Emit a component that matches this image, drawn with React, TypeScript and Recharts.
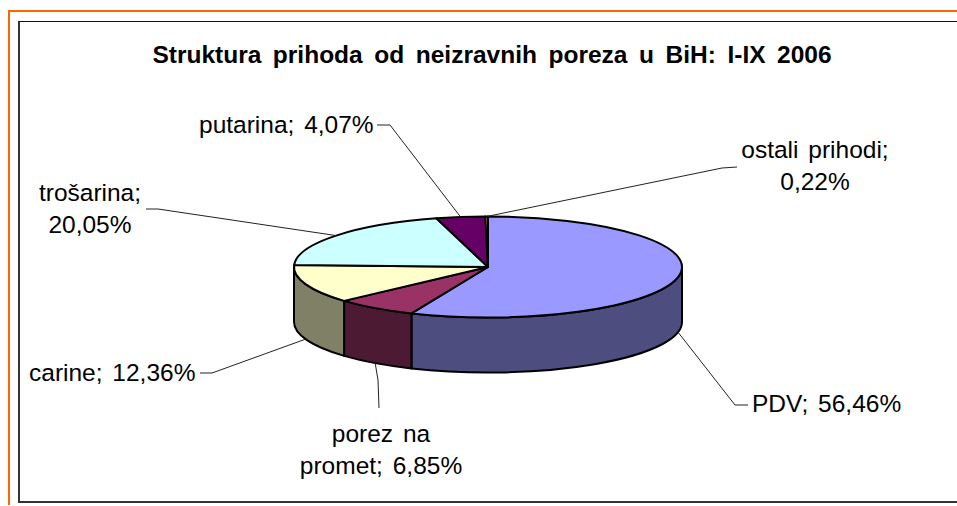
import React from "react";
import { PieChart, Pie, Cell } from "recharts";

const categories = ["PDV", "porez na promet", "carine", "trošarina", "putarina", "ostali prihodi"];
const shares = [56.46, 6.85, 12.36, 20.05, 4.07, 0.22];
const topColors = ["#9999FF", "#993366", "#FFFFCC", "#CCFFFF", "#660066", "#FF8080"];
const wallColors = ["#4D4D80", "#4D1A33", "#808066", "#668080", "#330033", "#804040"];

const tableData = categories.map((name, i) => ({ name, value: shares[i] }));

const CX = 488;
const CY = 267;
const RX = 194;
const RY = 50.5;
const DEPTH = 55;
const FONT = "'Liberation Sans', Arial, sans-serif";
const pct = (v: number) => v.toFixed(2).replace(".", ",") + "%";

type LabelSpec = {
  lines: (full: string, v: string) => string[];
  x: number;
  y: number;
  anchor: "start" | "middle" | "end";
  path: [number, number][];
};

const labelLayout: Record<string, LabelSpec> = {
  PDV: { lines: (f) => [f], x: 752, y: 403, anchor: "start", path: [[748, 405], [735, 405]] },
  "porez na promet": { lines: (_f, v) => ["porez na", `promet; ${v}`], x: 381, y: 433, anchor: "middle", path: [[379, 408], [378, 380]] },
  carine: { lines: (f) => [f], x: 29, y: 372, anchor: "start", path: [[200, 373], [212, 373]] },
  "trošarina": { lines: (_f, v) => ["trošarina;", v], x: 90, y: 192, anchor: "middle", path: [[146, 209], [158, 209]] },
  putarina: { lines: (f) => [f], x: 199, y: 124, anchor: "start", path: [[377, 125], [390, 125]] },
  "ostali prihodi": { lines: (_f, v) => ["ostali prihodi;", v], x: 815, y: 149, anchor: "middle", path: [[737, 167], [722, 168]] },
};

const pt = (deg: number, dy = 0) => {
  const a = (deg * Math.PI) / 180;
  return [CX + RX * Math.cos(a), CY - RY * Math.sin(a) + dy];
};

// Top face: the library's sector angles drawn on an ellipse
const TopFace = (p: any) => {
  const [x0, y0] = pt(p.startAngle);
  const [x1, y1] = pt(p.endAngle);
  const large = Math.abs(p.startAngle - p.endAngle) > 180 ? 1 : 0;
  return (
    <path
      d={`M${CX},${CY}L${x0},${y0}A${RX},${RY} 0 ${large} 1 ${x1},${y1}Z`}
      fill={p.fill}
      stroke="#000"
      strokeWidth={2}
      strokeLinejoin="round"
    />
  );
};

// Side wall: only the part of the sector on the front half of the rim
const SideWall = (p: any) => {
  const s = Math.min(p.startAngle, 0);
  const e = Math.max(p.endAngle, -180);
  if (s <= e) return <g />;
  const [x0, y0] = pt(s);
  const [x1, y1] = pt(e);
  return (
    <path
      d={`M${x0},${y0}A${RX},${RY} 0 0 1 ${x1},${y1}L${x1},${y1 + DEPTH}A${RX},${RY} 0 0 0 ${x0},${y0 + DEPTH}Z`}
      fill={p.fill}
      stroke="#000"
      strokeWidth={2}
      strokeLinejoin="round"
    />
  );
};

const renderLabel = (p: any) => {
  const spec = labelLayout[p.name];
  if (!spec) return <g />;
  const mid = (p.startAngle + p.endAngle) / 2;
  const front = mid < 0 && mid > -180;
  const anchor = pt(mid, front ? DEPTH : 0);
  const pts = [...spec.path, anchor].map((q) => q.join(",")).join(" ");
  const lines = spec.lines(`${p.name}; ${pct(p.value)}`, pct(p.value));
  return (
    <g>
      <polyline points={pts} fill="none" stroke="#222" strokeWidth={1} />
      {lines.map((t, i) => (
        <text
          key={t}
          x={spec.x}
          y={spec.y + i * 32.5}
          textAnchor={spec.anchor}
          dominantBaseline="central"
          fontFamily={FONT}
          fontSize={24.5}
          wordSpacing={3}
          fill="#000"
        >
          {t}
        </text>
      ))}
    </g>
  );
};

export default function App() {
  return (
    <div style={{ position: "absolute", left: 0, top: 0, width: 957, height: 506, background: "#fff", overflow: "hidden" }}>
      <div style={{ position: "absolute", left: 8, top: 10, width: 949, height: 495, borderLeft: "2px solid #FF6600", borderTop: "2px solid #FF6600", boxSizing: "border-box" }} />
      <div style={{ position: "absolute", left: 18, top: 21, width: 939, height: 482, borderLeft: "2px solid #333", borderTop: "1px solid #111", borderBottom: "2px solid #333", boxSizing: "border-box" }} />
      <div style={{ position: "absolute", left: 0, top: 0 }}>
        <PieChart width={957} height={506} margin={{ top: 0, right: 0, bottom: 0, left: 0 }}>
          <text x={492} y={54} textAnchor="middle" dominantBaseline="central" fontFamily={FONT} fontWeight="bold" fontSize={24.5} wordSpacing={4.75} fill="#000">
            Struktura prihoda od neizravnih poreza u BiH: I-IX 2006
          </text>
          <Pie
            data={tableData}
            dataKey="value"
            nameKey="name"
            cx={CX}
            cy={CY}
            outerRadius={RX}
            startAngle={90}
            endAngle={-270}
            paddingAngle={0}
            isAnimationActive={false}
            shape={SideWall}
            label={false}
            labelLine={false}
          >
            {tableData.map((d, i) => (
              <Cell key={d.name} fill={wallColors[i]} />
            ))}
          </Pie>
          <Pie
            data={tableData}
            dataKey="value"
            nameKey="name"
            cx={CX}
            cy={CY}
            outerRadius={RX}
            startAngle={90}
            endAngle={-270}
            paddingAngle={0}
            isAnimationActive={false}
            shape={TopFace}
            label={renderLabel}
            labelLine={false}
          >
            {tableData.map((d, i) => (
              <Cell key={d.name} fill={topColors[i]} />
            ))}
          </Pie>
        </PieChart>
      </div>
    </div>
  );
}
